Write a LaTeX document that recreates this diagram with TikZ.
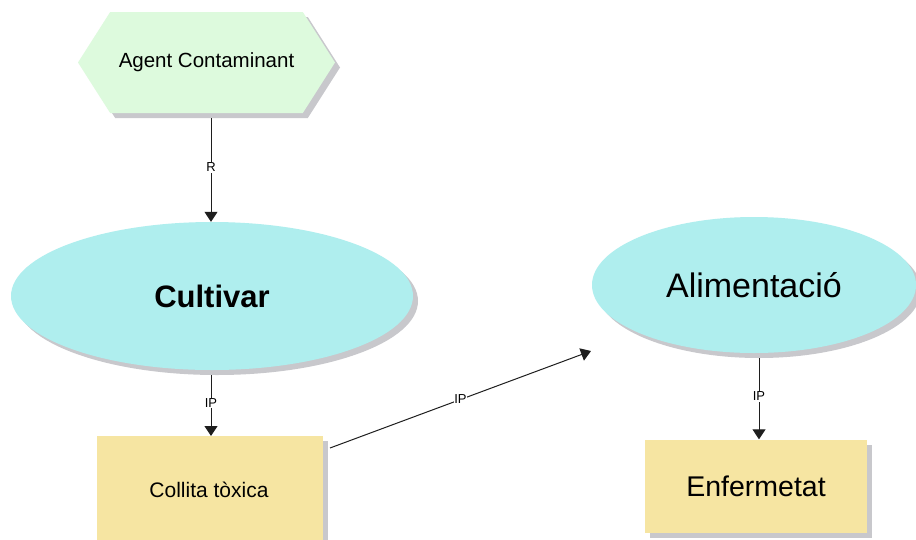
\documentclass[tikz,border=0pt]{standalone}
\usepackage{fontspec}
\setmainfont{Liberation Sans}
\usetikzlibrary{shapes.geometric,shapes.symbols,shadows,arrows.meta}

\definecolor{eventgreen}{RGB}{221,250,221}
\definecolor{funccyan}{RGB}{175,238,238}
\definecolor{boxbeige}{RGB}{246,229,162}
\definecolor{shadegray}{RGB}{200,200,204}
\definecolor{linegray}{RGB}{30,30,30}

\tikzset{
  shade/.style={drop shadow={shadow xshift=5pt, shadow yshift=-5pt, fill=shadegray, opacity=1}},
  hexbox/.style={shape=signal, signal to=west and east, signal pointer angle=115,
    fill=eventgreen, draw=none, shade, minimum width=257pt, minimum height=101pt, inner sep=0pt},
  ovalbox/.style={shape=ellipse, fill=funccyan, draw=none, shade, inner sep=0pt},
  stepbox/.style={shape=rectangle, fill=boxbeige, draw=none, shade, inner sep=0pt},
  link/.style={draw=linegray, line width=1pt, -{Triangle[width=13pt,length=10pt]}},
  linklabel/.style={fill=white, inner sep=0.8pt, font=\fontsize{13}{15}\selectfont, text=black}
}

\begin{document}
\begin{tikzpicture}[x=1pt,y=-1pt]
  \useasboundingbox (0,0) rectangle (916,539);
  \fill[white] (0,0) rectangle (916,539);

  % shapes
  \node[hexbox, font=\fontsize{20.5}{24}\selectfont] (agent) at (206.5,62.5) {Agent Contaminant};
  \node[ovalbox, minimum width=402pt, minimum height=148pt,
        font=\fontsize{31}{36}\selectfont\bfseries] (cultivar) at (212,296) {Cultivar};
  \node[stepbox, minimum width=226pt, minimum height=110pt, anchor=north west] (collita) at (97,436) {};
  \node[font=\fontsize{21}{25}\selectfont] (collitatext) at (209,490) {Collita tòxica};
  \node[ovalbox, minimum width=324pt, minimum height=136pt,
        font=\fontsize{34}{40}\selectfont] (alim) at (754,285) {Alimentació};
  \node[stepbox, minimum width=222pt, minimum height=93pt,
        font=\fontsize{28.5}{34}\selectfont] (enferm) at (756,486) {Enfermetat};

  % connectors
  \coordinate (cropout) at (330,448);
  \coordinate (alimin) at (591,351);
  \draw[link, shorten <=5pt] (agent.south -| 211,0) -- node[linklabel] {R} (cultivar.north -| 211,0);
  \draw[link, shorten <=5pt] (cultivar.south -| 211,0) -- node[linklabel] {IP} (collita.north -| 211,0);
  \draw[link] (cropout) -- node[linklabel] {IP} (alimin);
  \draw[link, shorten <=5pt] (alim.south -| 759,0) -- node[linklabel] {IP} (enferm.north -| 759,0);
\end{tikzpicture}
\end{document}
